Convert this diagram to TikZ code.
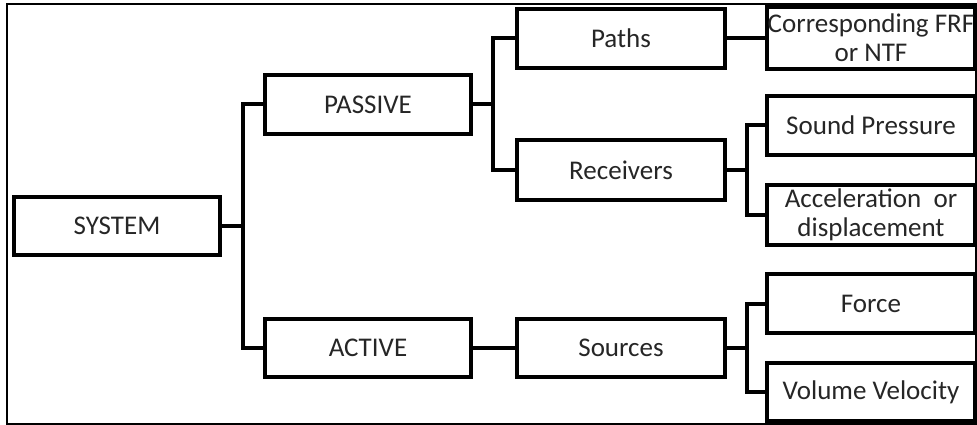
\documentclass[tikz,border=0pt]{standalone}
\usepackage{fontspec}
\setmainfont{Carlito}
\begin{document}
\begin{tikzpicture}[x=1pt,y=-1pt,
  box/.style={draw=black, line width=4pt, minimum width=206pt, inner sep=0pt,
    align=center, text=black!85, font=\fontsize{27}{30}\selectfont},
  rbox/.style={box, minimum width=208pt},
  conn/.style={draw=black, line width=4pt}]
\useasboundingbox (0,0) rectangle (977,425);
\fill[white] (0,0) rectangle (977,425);
\draw[line width=1.6pt] (7,4) rectangle (976,424);

\node[box, minimum height=58pt] (sys) at (117,226) {SYSTEM};
\node[box, minimum height=59pt] (pas) at (368,104.5) {PASSIVE};
\node[box, minimum height=58pt] (act) at (368,348) {ACTIVE};
\node[box, minimum width=208pt, minimum height=59pt] (pat) at (621,38.5) {Paths};
\node[box, minimum width=208pt, minimum height=60pt] (rec) at (621,170) {Receivers};
\node[box, minimum width=208pt, minimum height=58pt] (src) at (621,348) {Sources};
\node[rbox, minimum height=62pt] (frf) at (871,38) {Corresponding FRF\\[-1pt]or NTF};
\node[rbox, minimum height=59pt] (snd) at (871,125.5) {Sound Pressure};
\node[rbox, minimum height=60pt] (acc) at (871,215) {Acceleration~ or\\[-1pt]displacement};
\node[rbox, minimum height=59pt] (frc) at (871,303.5) {Force};
\node[rbox, minimum height=58pt] (vol) at (871,392) {Volume Velocity};

\coordinate (b1) at (243,0);
\coordinate (b2) at (493,0);
\coordinate (b3) at (747,0);

\draw[conn] (sys.east) -- (sys.east -| b1) |- (pas.west);
\draw[conn] (sys.east -| b1) |- (act.west);
\draw[conn] (pas.east) -- (pas.east -| b2) |- (pat.west);
\draw[conn] (pas.east -| b2) |- (rec.west);
\draw[conn] (act.east) -- (act.east -| src.west);
\draw[conn] (pat.east) -- (pat.east -| frf.west);
\draw[conn] (rec.east) -- (rec.east -| b3) |- (snd.west);
\draw[conn] (rec.east -| b3) |- (acc.west);
\draw[conn] (src.east) -- (src.east -| b3) |- (frc.west);
\draw[conn] (src.east -| b3) |- (vol.west);
\end{tikzpicture}
\end{document}
